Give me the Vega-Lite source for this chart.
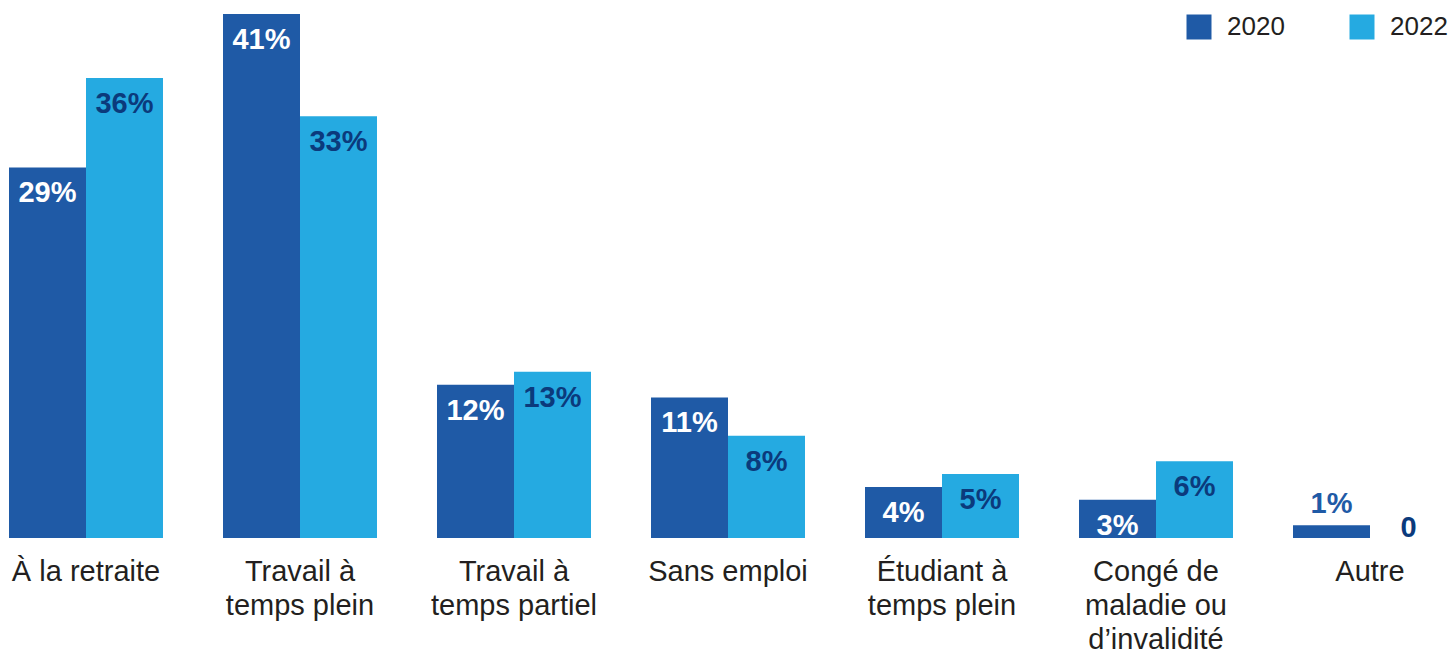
{
  "$schema": "https://vega.github.io/schema/vega-lite/v6.json",
  "width": 1438,
  "height": 538,
  "autosize": {"type": "none"},
  "padding": {"left": 9, "top": 0, "right": 5, "bottom": 111},
  "background": "white",
  "config": {"view": {"stroke": null}, "font": "Liberation Sans"},
  "data": {
    "values": [
      {"cat": "À la retraite", "year": "2020", "value": 29, "label": "29%"},
      {"cat": "À la retraite", "year": "2022", "value": 36, "label": "36%"},
      {"cat": "Travail à\ntemps plein", "year": "2020", "value": 41, "label": "41%"},
      {"cat": "Travail à\ntemps plein", "year": "2022", "value": 33, "label": "33%"},
      {"cat": "Travail à\ntemps partiel", "year": "2020", "value": 12, "label": "12%"},
      {"cat": "Travail à\ntemps partiel", "year": "2022", "value": 13, "label": "13%"},
      {"cat": "Sans emploi", "year": "2020", "value": 11, "label": "11%"},
      {"cat": "Sans emploi", "year": "2022", "value": 8, "label": "8%"},
      {"cat": "Étudiant à\ntemps plein", "year": "2020", "value": 4, "label": "4%"},
      {"cat": "Étudiant à\ntemps plein", "year": "2022", "value": 5, "label": "5%"},
      {"cat": "Congé de\nmaladie ou\nd’invalidité", "year": "2020", "value": 3, "label": "3%"},
      {"cat": "Congé de\nmaladie ou\nd’invalidité", "year": "2022", "value": 6, "label": "6%"},
      {"cat": "Autre", "year": "2020", "value": 1, "label": "1%"},
      {"cat": "Autre", "year": "2022", "value": 0, "label": "0"}
    ]
  },
  "encoding": {
    "x": {
      "field": "cat",
      "type": "nominal",
      "sort": null,
      "scale": {"paddingInner": 0.2804, "paddingOuter": 0},
      "axis": {
        "title": null,
        "domain": false,
        "ticks": false,
        "labelAngle": 0,
        "labelExpr": "split(datum.label, '\\n')",
        "labelFontSize": 29,
        "labelColor": "#231f20",
        "labelLineHeight": 34,
        "labelPadding": 19,
        "labelFont": "Liberation Sans",
        "labelLimit": 300
      }
    },
    "xOffset": {"field": "year", "type": "nominal", "scale": {"paddingInner": 0, "paddingOuter": 0}},
    "y": {
      "field": "value",
      "type": "quantitative",
      "scale": {"domain": [0, 42.1], "nice": false},
      "axis": null
    }
  },
  "layer": [
    {
      "mark": {"type": "bar"},
      "encoding": {
        "color": {
          "field": "year",
          "type": "nominal",
          "scale": {"domain": ["2020", "2022"], "range": ["#1f5aa6", "#25aae1"]},
          "legend": {
            "title": null,
            "orient": "none",
            "legendX": 1177,
            "legendY": 14,
            "direction": "horizontal",
            "columns": 2,
            "columnPadding": 64,
            "symbolType": "square",
            "symbolSize": 625,
            "symbolStrokeWidth": 0,
            "symbolOpacity": 1,
            "labelFontSize": 26,
            "labelColor": "#231f20",
            "labelOffset": 15,
            "labelFont": "Liberation Sans"
          }
        }
      }
    },
    {
      "transform": [{"filter": "datum.value >= 2"}],
      "mark": {"type": "text", "baseline": "top", "dy": 12, "fontSize": 29, "fontWeight": "bold", "font": "Liberation Sans"},
      "encoding": {
        "text": {"field": "label"},
        "color": {"condition": {"test": "datum.year == '2020'", "value": "#ffffff"}, "value": "#0b3a7c"}
      }
    },
    {
      "transform": [{"filter": "datum.value == 1"}],
      "mark": {"type": "text", "baseline": "alphabetic", "dy": -12, "fontSize": 29, "fontWeight": "bold", "font": "Liberation Sans", "color": "#1f5aa6"},
      "encoding": {"text": {"field": "label"}}
    },
    {
      "transform": [{"filter": "datum.value == 0"}],
      "mark": {"type": "text", "baseline": "alphabetic", "dy": -1, "fontSize": 29, "fontWeight": "bold", "font": "Liberation Sans", "color": "#0b3a7c"},
      "encoding": {"text": {"field": "label"}}
    }
  ]
}
